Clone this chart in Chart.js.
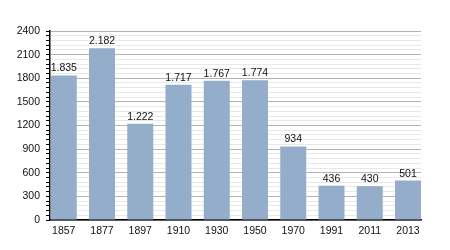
<!DOCTYPE html>
<html lang="en">
<head>
    <meta charset="UTF-8">
    <title>Population</title>
    <script src="https://cdn.jsdelivr.net/npm/chart.js"></script>
    <style>
        html, body { margin: 0; padding: 0; background: #fff; }
        #wrap { width: 450px; height: 250px; }
    </style>
</head>
<body>
    <div id="wrap"><canvas id="chart"></canvas></div>
    <script>
        const years = ['1857', '1877', '1897', '1910', '1930', '1950', '1970', '1991', '2011', '2013'];
        const population = [1835, 2182, 1222, 1717, 1767, 1774, 934, 436, 430, 501];
        const yMax = 2400;
        const majorStep = 300;
        const minorStep = 60;

        // 1835 -> "1.835"
        function fmt(v) {
            return v.toString().replace(/\B(?=(\d{3})+(?!\d))/g, '.');
        }

        // bars sit on a linear x axis (index) so the first/last bar can touch the frame
        const points = population.map((v, i) => ({ x: i, y: v }));

        const valueLabels = {
            id: 'valueLabels',
            afterDatasetsDraw(chart) {
                const ctx = chart.ctx;
                const meta = chart.getDatasetMeta(0);
                ctx.save();
                ctx.font = '10.5px "Liberation Sans", Arial, sans-serif';
                ctx.fillStyle = '#111';
                ctx.textAlign = 'center';
                ctx.textBaseline = 'alphabetic';
                meta.data.forEach((bar, i) => {
                    ctx.fillText(fmt(population[i]), bar.x, bar.y - 4);
                });
                ctx.restore();
            }
        };

        Chart.defaults.font.family = '"Liberation Sans", Arial, sans-serif';
        Chart.defaults.font.size = 10.5;
        Chart.defaults.color = '#111';

        new Chart(document.getElementById('chart'), {
            type: 'bar',
            data: {
                datasets: [{
                    data: points,
                    backgroundColor: '#94adca',
                    barPercentage: 0.68,
                    categoryPercentage: 1
                }]
            },
            options: {
                responsive: true,
                maintainAspectRatio: false,
                animation: false,
                layout: { padding: { top: 31, right: 29, left: 0, bottom: 0 } },
                plugins: { legend: { display: false }, tooltip: { enabled: false } },
                scales: {
                    x: {
                        type: 'linear',
                        min: -0.36,
                        max: 9.34,
                        offset: false,
                        grid: { display: false, drawTicks: false },
                        border: { color: '#000', width: 1.5 },
                        ticks: {
                            stepSize: 1,
                            includeBounds: false,
                            autoSkip: false,
                            maxRotation: 0,
                            padding: 5,
                            callback: v => (Number.isInteger(v) ? years[v] : '')
                        },
                        afterFit: s => { s.height = 30; }
                    },
                    y: {
                        min: 0,
                        max: yMax,
                        border: { color: '#000', width: 1.5 },
                        grid: {
                            color: c => (c.tick && c.tick.value % majorStep === 0) ? '#b4b4b4' : '#e8e8e8',
                            lineWidth: 1,
                            tickLength: 4,
                            tickColor: '#000'
                        },
                        ticks: {
                            stepSize: minorStep,
                            autoSkip: false,
                            padding: 6,
                            callback: v => (v % majorStep === 0 ? v : '')
                        },
                        afterFit: s => { s.width = 50; }
                    }
                }
            },
            plugins: [valueLabels]
        });
    </script>
</body>
</html>
